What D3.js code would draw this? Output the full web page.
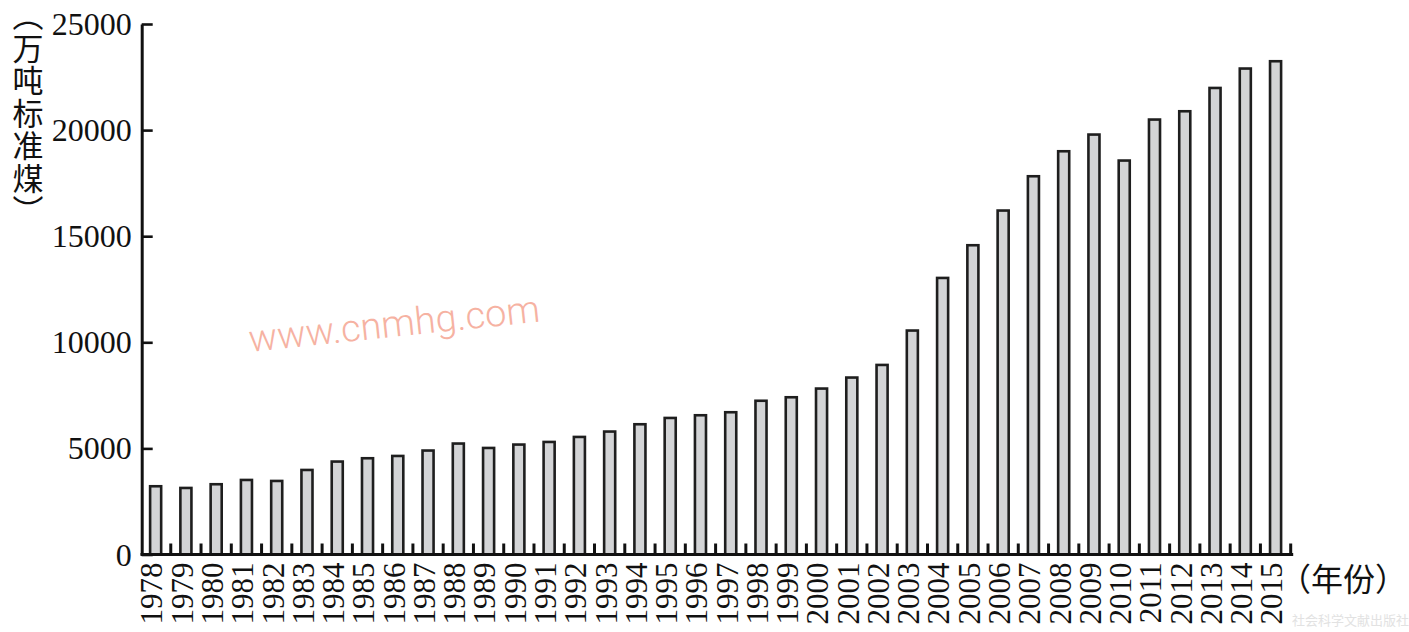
<!DOCTYPE html>
<html>
<head>
<meta charset="utf-8">
<script src="https://cdn.jsdelivr.net/npm/d3@7"></script>
<style>
  html, body { margin: 0; padding: 0; background: #fff; }
  svg { display: block; }
</style>
</head>
<body>
<svg id="chart" width="1409" height="632"></svg>
<script>
// ---- data ----
const years = ["1978","1979","1980","1981","1982","1983","1984","1985","1986","1987",
  "1988","1989","1990","1991","1992","1993","1994","1995","1996","1997",
  "1998","1999","2000","2001","2002","2003","2004","2005","2006","2007",
  "2008","2009","2010","2011","2012","2013","2014","2015"];
const energy = [3216,3136,3311,3513,3466,3984,4380,4536,4644,4899,
  5229,5021,5181,5304,5540,5794,6138,6435,6562,6704,
  7245,7410,7820,8339,8933,10554,13033,14574,16209,17825,
  19003,19790,18565,20497,20888,21986,22901,23245];
const yTicks = [0,5000,10000,15000,20000,25000];
const yTitle = "（万吨标准煤）";
const xTitle = "（年份）";
const watermark = "www.cnmhg.com";
const publisher = "社会科学文献出版社";

// ---- layout ----
const svg = d3.select("#chart");
const x0 = 140.5, x1 = 1290.7, yTop = 24, yBase = 554.5;
const serif = "'Liberation Serif','Times New Roman',serif";
const cjk = "'Noto Sans CJK SC','Noto Sans CJK JP',sans-serif";

const x = d3.scaleBand().domain(years).range([x0, x1]).paddingInner(0.635).paddingOuter(0.3175);
const y = d3.scaleLinear().domain([0, 25000]).range([yBase, yTop]);

// bars
svg.append("g").selectAll("rect").data(years).join("rect")
  .attr("x", d => x(d))
  .attr("y", (d, i) => y(energy[i]))
  .attr("width", x.bandwidth())
  .attr("height", (d, i) => yBase - y(energy[i]))
  .attr("fill", "#d3d4d6")
  .attr("stroke", "#1e1e1e")
  .attr("stroke-width", 2.6);

// boundary ticks on x axis (between bars)
const step = x.step();
svg.append("g").selectAll("line").data(years).join("line")
  .attr("x1", (d, i) => x0 + step * (i + 1))
  .attr("x2", (d, i) => x0 + step * (i + 1))
  .attr("y1", yBase)
  .attr("y2", yBase - 11)
  .attr("stroke", "#111")
  .attr("stroke-width", 3);

// y axis
const yAxis = svg.append("g").attr("transform", `translate(${x0 + 1.2},0)`)
  .call(d3.axisLeft(y).tickValues(yTicks).tickFormat(d3.format("d"))
    .tickSizeInner(-11).tickSizeOuter(0).tickPadding(10));
yAxis.select(".domain").attr("stroke", "#111").attr("stroke-width", 3);
yAxis.selectAll(".tick line").attr("stroke", "#111").attr("stroke-width", 2.6);
yAxis.selectAll(".tick text")
  .attr("fill", "#111")
  .style("font-family", serif)
  .style("font-size", "32px")
  .attr("dy", "0.33em");

// x axis line
svg.append("line")
  .attr("x1", x0).attr("x2", x1 + 2.5)
  .attr("y1", yBase).attr("y2", yBase)
  .attr("stroke", "#111").attr("stroke-width", 3);

// x labels (rotated)
const xAxis = svg.append("g").attr("transform", `translate(0,${yBase})`)
  .call(d3.axisBottom(x).tickSize(0).tickPadding(0));
xAxis.select(".domain").remove();
xAxis.selectAll(".tick text")
  .attr("transform", "rotate(-90)")
  .attr("x", -8)
  .attr("y", -4)
  .attr("dy", "0.35em")
  .style("text-anchor", "end")
  .attr("fill", "#111")
  .style("font-family", serif)
  .style("font-size", "31px");

// y title (vertical writing)
svg.append("text")
  .attr("x", 28)
  .attr("y", 0)
  .style("writing-mode", "vertical-rl")
  .style("letter-spacing", "1.5px")
  .attr("fill", "#111")
  .style("font-family", cjk)
  .style("font-size", "31px")
  .text(yTitle);

// x title
svg.append("text")
  .attr("x", 1279)
  .attr("y", 577)
  .attr("dominant-baseline", "central")
  .attr("fill", "#111")
  .style("font-family", cjk)
  .style("font-size", "32px")
  .text(xTitle);

// watermark
svg.append("text")
  .attr("transform", "translate(250,352) rotate(-6)")
  .attr("fill", "#f6b2a2")
  .style("font-family", "Roboto, 'Liberation Sans', sans-serif")
  .style("font-weight", 300)
  .style("font-size", "38px")
  .text(watermark);

// publisher mark
svg.append("text")
  .attr("x", 1292)
  .attr("y", 625)
  .attr("fill", "#e2e2e2")
  .style("font-family", cjk)
  .style("font-size", "13px")
  .text(publisher);
</script>
</body>
</html>
